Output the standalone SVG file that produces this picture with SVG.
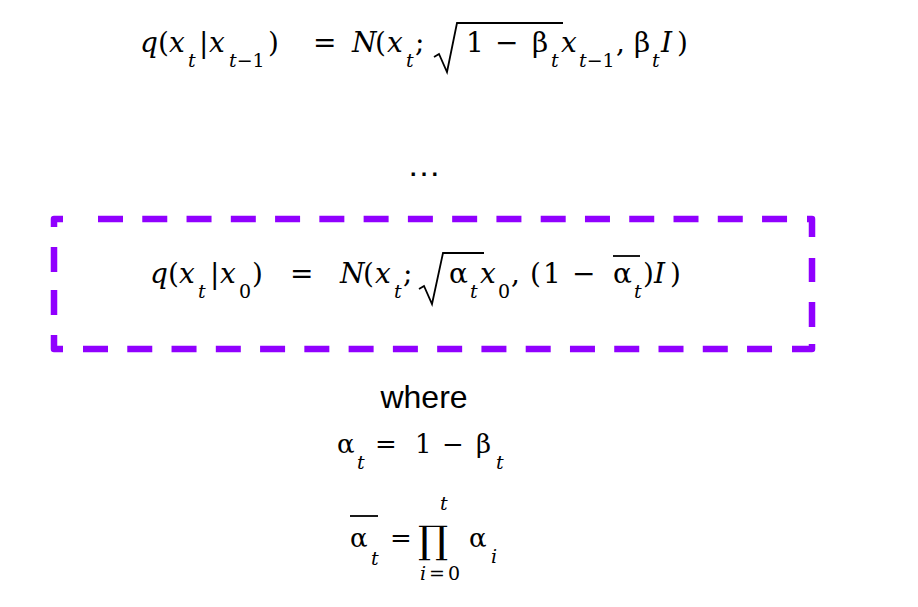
<svg xmlns="http://www.w3.org/2000/svg" width="918" height="607" viewBox="0 0 918 607">
<style>
text { font-family: "DejaVu Serif", "Liberation Serif", serif; fill: #000; }
.f { font-size: 28px; }
.f2 { font-size: 26px; }
.it { font-style: italic; }
.sub { font-size: 19px; }
.sans { font-family: "Liberation Sans", Arial, sans-serif; }
.rule { fill: none; stroke: #000; stroke-width: 1.8; stroke-linejoin: miter; }
.bar { stroke: #000; stroke-width: 1.8; }
.dash { fill: none; stroke: #9000ff; stroke-width: 6.5; stroke-linecap: butt; stroke-linejoin: round; }
</style>
<rect width="918" height="607" fill="#ffffff"/>

<g id="formula-step">
<text class="f"><tspan class="it" x="140" y="52">q</tspan><tspan x="158" y="52">(</tspan><tspan class="it" x="169" y="52">x</tspan><tspan class="it sub" x="188" y="67">t</tspan><tspan x="199" y="52">|</tspan><tspan class="it" x="209" y="52">x</tspan><tspan class="it sub" x="229" y="67">t</tspan><tspan class="sub" y="67">−1</tspan><tspan x="268" y="52">)</tspan><tspan x="313" y="52">=</tspan><tspan class="it" x="352" y="52">N</tspan><tspan x="375" y="52">(</tspan><tspan class="it" x="387" y="52">x</tspan><tspan class="it sub" x="406" y="67">t</tspan><tspan x="415" y="52">;</tspan><tspan x="466" y="52">1</tspan><tspan x="495" y="52">−</tspan><tspan x="532" y="52">β</tspan><tspan class="it sub" x="551" y="67">t</tspan><tspan class="it" x="561" y="52">x</tspan><tspan class="it sub" x="579" y="67">t</tspan><tspan class="sub" y="67">−1</tspan><tspan x="616" y="52">,</tspan><tspan x="634" y="52">β</tspan><tspan class="it sub" x="652" y="67">t</tspan><tspan class="it" x="661" y="52">I</tspan><tspan x="677" y="52">)</tspan></text>
<path class="rule" d="M434,57 L439,54 L447,72 L457,23 L563,23"/>
</g>

<g id="ellipsis">
<text class="sans" x="424" y="176" font-size="34" text-anchor="middle">…</text>
</g>

<g id="highlight-box">
<path class="dash" d="M54,227 L54,219 L63,219
M98,219 h25 M142.27,219 h25 M186.54,219 h25 M230.81,219 h25 M275.08,219 h25 M319.35,219 h25 M363.62,219 h25 M407.89,219 h25 M452.16,219 h25 M496.43,219 h25 M540.7,219 h25 M584.97,219 h25 M629.24,219 h25 M673.51,219 h25 M717.78,219 h25 M762.05,219 h25
M807,219 L812,219 L812,237
M812,258 v24 M812,302 v25
M812,344 L812,349 L792,349
M83,349 h25 M127.27,349 h25 M171.54,349 h25 M215.81,349 h25 M260.08,349 h25 M304.35,349 h25 M348.62,349 h25 M392.89,349 h25 M437.16,349 h25 M481.43,349 h25 M525.7,349 h25 M569.97,349 h25 M614.24,349 h25 M658.51,349 h25 M702.78,349 h25 M747.05,349 h25
M63,349 L54,349 L54,335
M54,247 v25 M54,290 v25"/>
</g>

<g id="formula-marginal">
<text class="f"><tspan class="it" x="150" y="283">q</tspan><tspan x="168" y="283">(</tspan><tspan class="it" x="179" y="283">x</tspan><tspan class="it sub" x="198" y="298">t</tspan><tspan x="210" y="283">|</tspan><tspan class="it" x="220" y="283">x</tspan><tspan class="sub" x="239" y="298">0</tspan><tspan x="252" y="283">)</tspan><tspan x="290" y="283">=</tspan><tspan class="it" x="340" y="283">N</tspan><tspan x="363" y="283">(</tspan><tspan class="it" x="375" y="283">x</tspan><tspan class="it sub" x="394" y="298">t</tspan><tspan x="403" y="283">;</tspan><tspan x="449" y="283">α</tspan><tspan class="it sub" x="470" y="298">t</tspan><tspan class="it" x="480" y="283">x</tspan><tspan class="sub" x="498" y="298">0</tspan><tspan x="511" y="283">,</tspan><tspan x="530" y="283">(</tspan><tspan x="543" y="283">1</tspan><tspan x="572" y="283">−</tspan><tspan x="613" y="283">α</tspan><tspan class="it sub" x="634" y="298">t</tspan><tspan x="643" y="283">)</tspan><tspan class="it" x="654" y="283">I</tspan><tspan x="670" y="283">)</tspan></text>
<path class="rule" d="M419,289 L424,286 L432,304 L443,253 L484,253"/>
<line class="bar" x1="613" y1="256" x2="640" y2="256"/>
</g>

<g id="where-label">
<text class="sans" x="424" y="408" font-size="32" text-anchor="middle">where</text>
</g>

<g id="alpha-def">
<text class="f2"><tspan x="337" y="453">α</tspan><tspan class="it sub" x="357" y="469">t</tspan><tspan x="375" y="453">=</tspan><tspan x="415" y="453">1</tspan><tspan x="442" y="453">−</tspan><tspan x="476" y="453">β</tspan><tspan class="it sub" x="496" y="469">t</tspan></text>
</g>

<g id="alphabar-def">
<line class="bar" x1="350" y1="516" x2="378" y2="516"/>
<text class="f2"><tspan x="350" y="547">α</tspan><tspan class="it sub" x="371" y="565">t</tspan><tspan x="390" y="547">=</tspan><tspan x="418" y="553" font-size="38">∏</tspan><tspan class="it sub" x="440" y="510">t</tspan><tspan class="it sub" x="420" y="580">i</tspan><tspan class="sub" x="429" y="580">=</tspan><tspan class="sub" x="448" y="580">0</tspan><tspan x="469" y="547">α</tspan><tspan class="it sub" x="491" y="563">i</tspan></text>
</g>
</svg>
